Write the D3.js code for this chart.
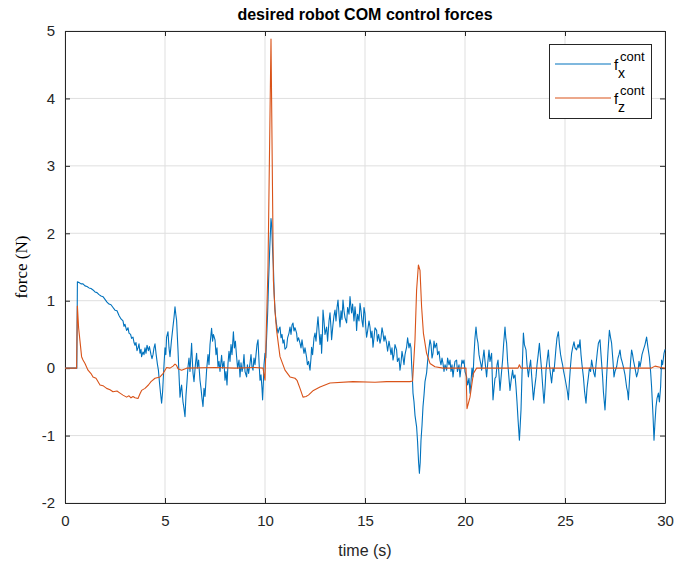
<!DOCTYPE html>
<html><head><meta charset="utf-8">
<script src="https://cdn.jsdelivr.net/npm/d3@7"></script>
<style>body{margin:0;background:#fff}svg{display:block}</style>
</head><body>
<script>
const title = "desired robot COM control forces";
const xLabel = "time (s)";
const yLabel = "force (N)";
const xTicks = [0,5,10,15,20,25,30];
const yTicks = [-2,-1,0,1,2,3,4,5];
const seriesNames = ["x","z"];

// f_x^cont samples: [time (s), force (N)]
const fxSamples = [[0,0],[0.59,0],
[0.62,1.28],[0.7,1.27],[0.8,1.25],[0.9,1.25],[1.0,1.22],[1.1,1.21],[1.2,1.19],[1.3,1.18],[1.4,1.16],[1.5,1.13],[1.6,1.12],[1.7,1.09],[1.8,1.07],[1.9,1.06],[2.0,1.02],[2.1,0.98],[2.2,0.95],[2.3,0.94],[2.4,0.9],[2.5,0.86],[2.6,0.85],[2.7,0.78],[2.8,0.73],[2.9,0.7],[2.95,0.62],[3.0,0.65],[3.08,0.56],[3.15,0.6],[3.2,0.52],[3.28,0.5],[3.33,0.44],[3.4,0.46],[3.45,0.38],[3.5,0.34],[3.55,0.38],[3.6,0.26],[3.65,0.3],[3.7,0.36],[3.75,0.22],[3.8,0.28],[3.83,0.17],[3.9,0.24],[3.95,0.2],[4.0,0.30],[4.05,0.22],[4.1,0.34],[4.17,0.26],[4.22,0.32],[4.3,0.2],[4.35,0.14],[4.4,0.2],[4.45,0.3],[4.5,0.36],[4.55,0.22],[4.62,0.06],[4.67,-0.03],[4.72,-0.2],[4.78,-0.38],[4.83,-0.52],[4.88,-0.35],[4.95,0.05],
[5.0,0.3],[5.04,0.2],[5.08,0.46],[5.15,0.54],[5.2,0.3],[5.25,0.17],[5.32,0.4],[5.4,0.62],[5.45,0.75],[5.5,0.91],[5.54,0.8],[5.58,0.71],[5.62,0.45],[5.65,0.27],[5.7,-0.1],[5.75,-0.43],[5.8,-0.3],[5.83,-0.25],[5.9,-0.5],[5.95,-0.6],[6.0,-0.72],[6.05,-0.4],[6.1,-0.2],[6.15,0.02],[6.2,0.15],[6.25,-0.05],[6.33,0.37],[6.37,0.1],[6.4,-0.07],[6.45,-0.2],[6.52,0.05],[6.58,0.22],[6.62,0.0],[6.68,0.12],[6.75,-0.18],[6.8,-0.3],[6.85,-0.45],[6.9,-0.57],[6.95,-0.3],[7.0,-0.42],[7.08,-0.03],[7.15,0.2],[7.2,0.05],[7.25,0.35],[7.3,0.5],[7.33,0.59],[7.38,0.4],[7.42,0.5],[7.5,0.42],[7.55,0.2],[7.6,0.3],[7.65,0.02],[7.7,0.1],[7.75,-0.05],[7.83,0.19],[7.88,0.0],[7.95,0.1],
[8.0,-0.18],[8.05,-0.05],[8.1,-0.25],[8.15,0.07],[8.2,0.25],[8.25,0.1],[8.3,0.35],[8.35,0.2],[8.42,0.54],[8.47,0.3],[8.52,0.4],[8.58,0.17],[8.63,0.0],[8.7,0.12],[8.75,-0.13],[8.8,0.08],[8.85,-0.05],[8.9,0.02],[8.95,0.2],[9.0,-0.05],[9.08,-0.13],[9.12,0.05],[9.18,-0.08],[9.25,0.07],[9.3,0.2],[9.35,0.02],[9.4,-0.03],[9.45,0.15],[9.5,0.05],[9.55,0.2],[9.6,0.35],[9.65,0.42],[9.7,0.1],[9.75,-0.18],[9.8,-0.1],[9.85,-0.3],[9.88,-0.47],[9.92,-0.2],[9.95,0.05],
[10.0,0.22],[10.04,0.15],[10.08,0.45],[10.13,0.8],[10.18,1.3],[10.24,1.8],[10.3,2.22],[10.34,2.1],[10.38,1.75],[10.42,1.5],[10.46,1.1],[10.5,0.86],[10.55,0.7],[10.6,0.6],[10.65,0.52],[10.7,0.58],[10.75,0.61],[10.8,0.45],[10.85,0.5],[10.9,0.37],[10.95,0.42],[11.0,0.28],[11.08,0.31],[11.13,0.45],[11.2,0.52],[11.25,0.61],[11.3,0.5],[11.35,0.64],[11.4,0.67],[11.45,0.55],[11.5,0.6],[11.58,0.52],[11.62,0.4],[11.68,0.45],[11.75,0.37],[11.8,0.3],[11.85,0.42],[11.9,0.31],[11.95,0.22],
[12.0,0.3],[12.08,0.16],[12.12,0.05],[12.18,0.1],[12.25,-0.03],[12.3,0.15],[12.33,0.31],[12.38,0.2],[12.45,0.45],[12.5,0.52],[12.55,0.4],[12.6,0.6],[12.65,0.76],[12.7,0.55],[12.75,0.35],[12.8,0.5],[12.83,0.22],[12.87,0.5],[12.9,0.86],[12.95,0.7],[13.0,0.5],[13.08,0.61],[13.13,0.4],[13.2,0.7],[13.25,0.82],[13.3,0.6],[13.33,0.42],[13.4,0.65],[13.45,0.78],[13.5,0.86],[13.55,0.7],[13.6,0.9],[13.65,1.01],[13.7,0.8],[13.75,0.61],[13.8,0.85],[13.85,0.72],[13.9,1.01],[13.95,0.85],
[14.0,0.75],[14.08,0.67],[14.13,0.9],[14.2,0.8],[14.25,1.06],[14.3,0.9],[14.33,0.82],[14.38,0.95],[14.45,0.7],[14.5,0.91],[14.55,0.75],[14.58,0.56],[14.63,0.8],[14.7,0.7],[14.75,0.96],[14.8,0.85],[14.85,0.7],[14.9,0.61],[14.95,0.9],[15.0,0.81],[15.04,0.6],[15.08,0.46],[15.13,0.55],[15.2,0.7],[15.25,0.61],[15.3,0.45],[15.35,0.55],[15.4,0.31],[15.45,0.45],[15.5,0.6],[15.58,0.56],[15.62,0.4],[15.68,0.5],[15.75,0.37],[15.8,0.45],[15.85,0.6],[15.9,0.52],[15.95,0.4],
[16.0,0.48],[16.08,0.37],[16.13,0.25],[16.2,0.4],[16.25,0.31],[16.3,0.2],[16.35,0.3],[16.4,0.12],[16.45,0.2],[16.5,0.35],[16.58,0.27],[16.62,0.1],[16.7,0.15],[16.75,-0.03],[16.8,0.08],[16.85,0.25],[16.9,0.16],[16.95,0.05],[17.0,0.2],[17.08,0.31],[17.13,0.45],[17.2,0.3],[17.25,0.37],[17.3,0.3],[17.33,0.07],[17.37,-0.15],[17.4,-0.37],[17.45,-0.5],[17.5,-0.7],[17.58,-0.87],[17.63,-1.1],[17.68,-1.4],[17.72,-1.56],[17.76,-1.4],[17.8,-1.07],[17.85,-0.85],[17.9,-0.57],[17.95,-0.4],
[18.0,-0.2],[18.08,-0.07],[18.13,0.1],[18.2,0.3],[18.25,0.42],[18.3,0.35],[18.35,0.15],[18.4,0.22],[18.45,0.4],[18.5,0.3],[18.58,0.37],[18.63,0.2],[18.7,0.25],[18.75,0.12],[18.8,0.05],[18.85,0.15],[18.9,0.07],[18.95,-0.05],[19.0,0.05],[19.08,-0.03],[19.13,0.15],[19.2,0.05],[19.25,0.12],[19.3,-0.05],[19.35,0.05],[19.4,-0.13],[19.45,0.0],[19.5,0.1],[19.58,0.12],[19.62,-0.05],[19.7,0.05],[19.75,-0.13],[19.8,0.0],[19.85,0.12],[19.9,0.07],[19.95,0.12],
[20.0,-0.05],[20.08,-0.13],[20.13,-0.25],[20.2,-0.15],[20.25,-0.37],[20.3,-0.2],[20.35,0.0],[20.4,-0.13],[20.45,0.2],[20.5,0.45],[20.55,0.61],[20.6,0.45],[20.65,0.37],[20.7,0.2],[20.75,0.12],[20.8,0.05],[20.83,-0.03],[20.88,0.1],[20.95,0.27],[21.0,0.1],[21.08,-0.13],[21.13,0.05],[21.2,0.27],[21.25,0.1],[21.33,0.22],[21.37,-0.2],[21.4,-0.47],[21.45,-0.3],[21.5,-0.15],[21.55,-0.13],[21.6,0.05],[21.65,0.12],[21.7,-0.1],[21.75,-0.33],[21.8,-0.15],[21.88,0.12],[21.93,0.35],
[22.0,0.61],[22.04,0.45],[22.08,0.37],[22.13,0.1],[22.2,-0.15],[22.25,-0.33],[22.3,-0.2],[22.38,-0.03],[22.43,-0.15],[22.5,-0.1],[22.55,-0.28],[22.6,-0.5],[22.66,-0.8],[22.72,-1.07],[22.76,-0.85],[22.8,-0.62],[22.85,-0.1],[22.92,0.52],[22.97,0.35],[23.05,0.27],[23.1,0.05],[23.17,-0.13],[23.22,0.0],[23.28,0.12],[23.33,-0.1],[23.38,-0.3],[23.42,-0.47],[23.48,-0.3],[23.55,-0.13],[23.6,0.05],[23.66,0.2],[23.72,0.37],[23.78,0.15],[23.83,-0.03],[23.88,-0.25],[23.95,-0.52],
[24.0,-0.3],[24.05,-0.03],[24.1,0.1],[24.17,0.27],[24.22,0.05],[24.28,-0.1],[24.33,-0.22],[24.4,0.0],[24.45,-0.05],[24.5,0.12],[24.55,0.3],[24.6,0.45],[24.67,0.54],[24.72,0.35],[24.78,0.2],[24.83,0.12],[24.88,0.05],[24.92,-0.03],[25.0,-0.15],[25.08,-0.28],[25.12,-0.35],[25.17,-0.47],[25.22,-0.2],[25.28,0.05],[25.33,0.22],[25.38,0.3],[25.45,0.39],[25.5,0.3],[25.58,0.27],[25.65,0.35],[25.7,0.3],[25.75,0.42],[25.8,0.2],[25.85,0.05],[25.92,-0.13],[25.98,-0.35],
[26.05,-0.52],[26.1,-0.3],[26.17,-0.13],[26.22,0.0],[26.28,-0.05],[26.33,0.12],[26.4,0.0],[26.45,-0.08],[26.5,-0.13],[26.55,0.05],[26.62,0.25],[26.67,0.37],[26.75,0.42],[26.8,0.2],[26.88,-0.13],[26.92,-0.35],[27.0,-0.62],[27.04,-0.4],[27.08,-0.13],[27.15,0.25],[27.22,0.56],[27.28,0.45],[27.33,0.37],[27.4,0.1],[27.45,-0.13],[27.5,-0.05],[27.58,0.02],[27.65,0.15],[27.7,0.2],[27.75,0.27],[27.8,0.15],[27.85,0.1],[27.92,0.02],
[28.0,-0.1],[28.08,-0.28],[28.13,-0.35],[28.17,-0.47],[28.22,-0.2],[28.28,0.1],[28.33,0.27],[28.38,0.2],[28.42,0.12],[28.5,0.0],[28.58,-0.13],[28.65,-0.05],[28.7,0.1],[28.75,0.02],[28.8,0.1],[28.85,0.2],[28.92,0.27],[29.0,0.35],[29.08,0.46],[29.15,0.3],[29.22,0.16],[29.28,-0.05],[29.33,-0.28],[29.4,-0.7],[29.45,-1.07],[29.5,-0.8],[29.55,-0.57],[29.6,-0.45],[29.67,-0.37],[29.72,-0.5],[29.78,-0.28],[29.83,0.12],[29.88,0.05],[29.95,0.22],[30,0.28]];

// f_z^cont samples: [time (s), force (N)]
const fzSamples = [[0,0],[0.58,0],[0.62,0.92],[0.68,0.6],[0.75,0.4],[0.83,0.17],[0.9,0.12],[1.0,0.07],[1.15,-0.03],[1.3,-0.08],[1.4,-0.13],[1.55,-0.15],[1.75,-0.25],[1.9,-0.26],[2.08,-0.3],[2.25,-0.32],[2.4,-0.35],[2.6,-0.34],[2.75,-0.37],[2.9,-0.4],[3.08,-0.43],[3.2,-0.41],[3.3,-0.44],[3.4,-0.42],[3.5,-0.44],[3.65,-0.45],[3.75,-0.38],[3.83,-0.33],[4.0,-0.3],[4.17,-0.25],[4.3,-0.2],[4.5,-0.15],[4.75,-0.13],[4.9,-0.08],[5.0,-0.03],[5.08,0.01],[5.25,0],[5.4,0.03],[5.5,0.06],[5.58,0.04],[5.65,-0.01],[5.83,-0.03],[6.08,0],[7.5,0.01],[8.5,0],[9.5,0.01],[9.9,0],[10.0,-0.18],[10.15,1.5],[10.3,4.88],[10.42,1.3],[10.5,0.85],[10.58,0.56],[10.75,0.17],[11.0,-0.03],[11.25,-0.13],[11.5,-0.15],[11.6,-0.18],[11.75,-0.3],[11.9,-0.43],[12.05,-0.42],[12.17,-0.4],[12.42,-0.33],[12.75,-0.28],[13.0,-0.25],[13.25,-0.22],[14.4,-0.2],[15.5,-0.21],[16.08,-0.2],[17.25,-0.2],[17.38,-0.19],[17.5,0.42],[17.58,1.16],[17.67,1.53],[17.75,1.45],[17.83,0.91],[17.92,0.52],[18.08,0.22],[18.25,0.07],[18.5,0.02],[18.9,0],[20.05,0],[20.1,-0.6],[20.25,-0.43],[20.42,-0.08],[20.58,0],[22.65,0],[22.72,0.05],[22.8,0],[29.3,0],[29.5,0.03],[29.8,0.01],[30,0]];

const W = 677, H = 566;
const m = {left:65, right:665, top:31, bottom:503};
const svg = d3.select("body").append("svg").attr("width",W).attr("height",H);
const x = d3.scaleLinear().domain([0,30]).range([m.left,m.right]);
const y = d3.scaleLinear().domain([-2,5]).range([m.bottom,m.top]);
const sans = "'Liberation Sans',Arial,Helvetica,sans-serif";
const serif = "'Liberation Serif','DejaVu Serif','Times New Roman',serif";

// grid
const g = svg.append("g");
g.selectAll(".gx").data(xTicks).enter().append("line")
  .attr("x1",d=>x(d)).attr("x2",d=>x(d)).attr("y1",m.top).attr("y2",m.bottom)
  .attr("stroke","#dfdfdf").attr("stroke-width",1);
g.selectAll(".gy").data(yTicks).enter().append("line")
  .attr("y1",d=>y(d)).attr("y2",d=>y(d)).attr("x1",m.left).attr("x2",m.right)
  .attr("stroke","#dfdfdf").attr("stroke-width",1);

const axisColor = "#262626";
const fmt = d => String(d);
const xb = svg.append("g").attr("transform",`translate(0,${m.bottom})`)
  .call(d3.axisBottom(x).tickValues(xTicks).tickSizeInner(-5).tickSizeOuter(0).tickPadding(12).tickFormat(fmt));
const xt = svg.append("g").attr("transform",`translate(0,${m.top})`)
  .call(d3.axisTop(x).tickValues(xTicks).tickSizeInner(-5).tickSizeOuter(0).tickFormat(""));
const yl = svg.append("g").attr("transform",`translate(${m.left},0)`)
  .call(d3.axisLeft(y).tickValues(yTicks).tickSizeInner(-5).tickSizeOuter(0).tickPadding(10).tickFormat(fmt));
const yr = svg.append("g").attr("transform",`translate(${m.right},0)`)
  .call(d3.axisRight(y).tickValues(yTicks).tickSizeInner(-5).tickSizeOuter(0).tickFormat(""));
[xb,xt,yl,yr].forEach(a=>{
  a.selectAll("path").attr("stroke",axisColor);
  a.selectAll("line").attr("stroke",axisColor);
  a.selectAll("text").attr("fill",axisColor).attr("font-size",15).attr("font-family",sans);
});

// lines
const lineGen = d3.line().x(d=>x(d[0])).y(d=>y(d[1]));
svg.append("path").datum(fxSamples).attr("d",lineGen).attr("fill","none").attr("stroke","#0072BD").attr("stroke-width",1.1).attr("stroke-linejoin","round");
svg.append("path").datum(fzSamples).attr("d",lineGen).attr("fill","none").attr("stroke","#D95319").attr("stroke-width",1.1).attr("stroke-linejoin","round");

// title & labels
svg.append("text").attr("x",(m.left+m.right)/2).attr("y",20).attr("text-anchor","middle")
  .attr("font-family",sans).attr("font-size",16).attr("font-weight","bold").attr("fill","#000").text(title);
svg.append("text").attr("x",(m.left+m.right)/2).attr("y",556).attr("text-anchor","middle")
  .attr("font-family",sans).attr("font-size",16).attr("fill",axisColor).text(xLabel);
svg.append("text").attr("transform",`translate(27,${(m.top+m.bottom)/2}) rotate(-90)`).attr("text-anchor","middle")
  .attr("font-family",serif).attr("font-size",17).attr("fill","#000").text(yLabel);

// legend
const lg = svg.append("g");
lg.append("rect").attr("x",549.5).attr("y",44.5).attr("width",102).attr("height",74)
  .attr("fill","#fff").attr("stroke",axisColor).attr("stroke-width",1);
const colors = ["#0072BD","#D95319"];
seriesNames.forEach((s,i)=>{
  const yy = 64 + i*34;
  lg.append("line").attr("x1",555).attr("x2",611).attr("y1",yy).attr("y2",yy).attr("stroke",colors[i]).attr("stroke-width",1.1);
  const t = lg.append("text").attr("x",614).attr("y",yy+6).attr("fill","#000").attr("font-family",sans).attr("font-size",15);
  t.append("tspan").text("f");
  t.append("tspan").attr("x",620).attr("dy",-9).attr("font-size",13).text("cont");
  t.append("tspan").attr("x",618).attr("dy",17).attr("font-size",14).text(s);
});
</script>
</body></html>
